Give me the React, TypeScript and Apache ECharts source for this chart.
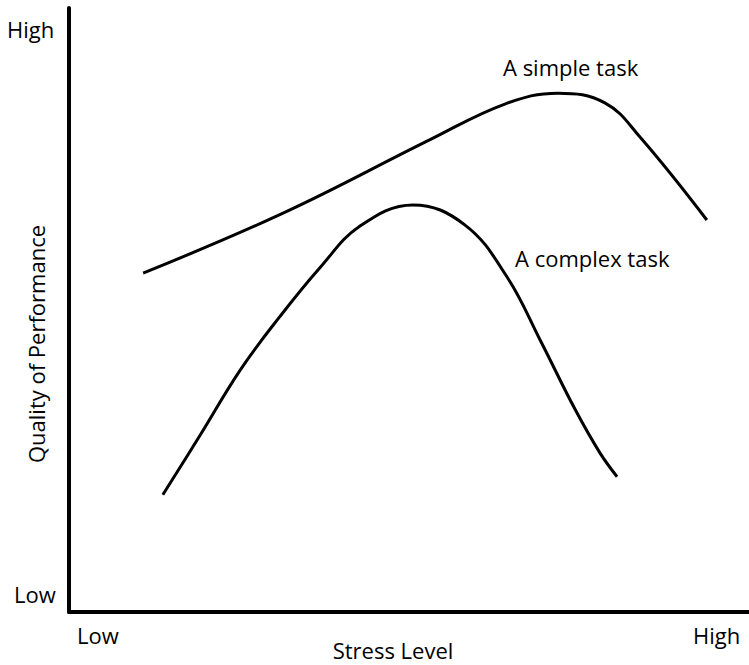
import React, { useEffect, useRef } from "react";
import * as echarts from "echarts";

// Stress level (0 = low, 100 = high) and quality of performance (0 = low, 100 = high)
const simpleX = [10.9, 31.8, 53.1, 64.1, 71.9, 78.8, 84.0, 93.8];
const simpleY = [56.1, 66.2, 78.2, 84.1, 85.9, 84.3, 78.6, 64.9];

const complexX = [13.8, 19.3, 25.2, 31.0, 36.9, 42.8, 50.6, 58.2, 64.4, 69.3, 74.4, 78.1, 80.6];
const complexY = [19.4, 29.3, 40.1, 48.9, 57.0, 63.9, 67.4, 64.1, 55.5, 45.0, 33.6, 26.3, 22.4];

const seriesNames = ["A simple task", "A complex task"];
const levelLabels = ["Low", "High"];
const xAxisTitle = "Stress Level";
const yAxisTitle = "Quality of Performance";

const FONT = "'Open Sans', sans-serif";
const FS = 22;

export default function App() {
  const ref = useRef<HTMLDivElement>(null);
  useEffect(() => {
    if (!ref.current) return;
    const chart = echarts.init(ref.current, null, { renderer: "svg" });
    const ts = (text: string, align = "left") => ({
      text,
      fontFamily: FONT,
      fontSize: FS,
      fill: "#000",
      align,
      verticalAlign: "middle",
    });
    const axisCommon = {
      type: "value",
      min: 0,
      max: 100,
      axisLine: { show: true, lineStyle: { color: "#000", width: 4 } },
      axisTick: { show: false },
      axisLabel: { show: false },
      splitLine: { show: false },
    };
    chart.setOption({
      animation: false,
      backgroundColor: "#fff",
      grid: { left: 69, top: 8, right: 0, bottom: 53 },
      xAxis: { ...axisCommon },
      yAxis: { ...axisCommon },
      graphic: [
        { type: "text", x: 7, y: 29, style: ts(levelLabels[1]) },
        { type: "text", x: 14, y: 594, style: ts(levelLabels[0]) },
        { type: "text", x: 77, y: 635, style: ts(levelLabels[0]) },
        { type: "text", x: 693, y: 635, style: ts(levelLabels[1]) },
        { type: "text", x: 503, y: 67, style: ts(seriesNames[0]) },
        { type: "text", x: 515, y: 258, style: ts(seriesNames[1]) },
        { type: "text", x: 393, y: 650, style: ts(xAxisTitle, "center") },
        { type: "text", x: 36, y: 344, rotation: Math.PI / 2, style: ts(yAxisTitle, "center") },
      ],
      series: [
        {
          name: seriesNames[0],
          type: "line",
          data: simpleX.map((x, i) => [x, simpleY[i]]),
          smooth: 0.4,
          showSymbol: false,
          lineStyle: { color: "#000", width: 3 },
        },
        {
          name: seriesNames[1],
          type: "line",
          data: complexX.map((x, i) => [x, complexY[i]]),
          smooth: 0.4,
          showSymbol: false,
          lineStyle: { color: "#000", width: 3 },
        },
      ],
    });
    return () => chart.dispose();
  }, []);
  return <div ref={ref} style={{ width: 749, height: 665, position: "absolute", left: 0, top: 0 }} />;
}
